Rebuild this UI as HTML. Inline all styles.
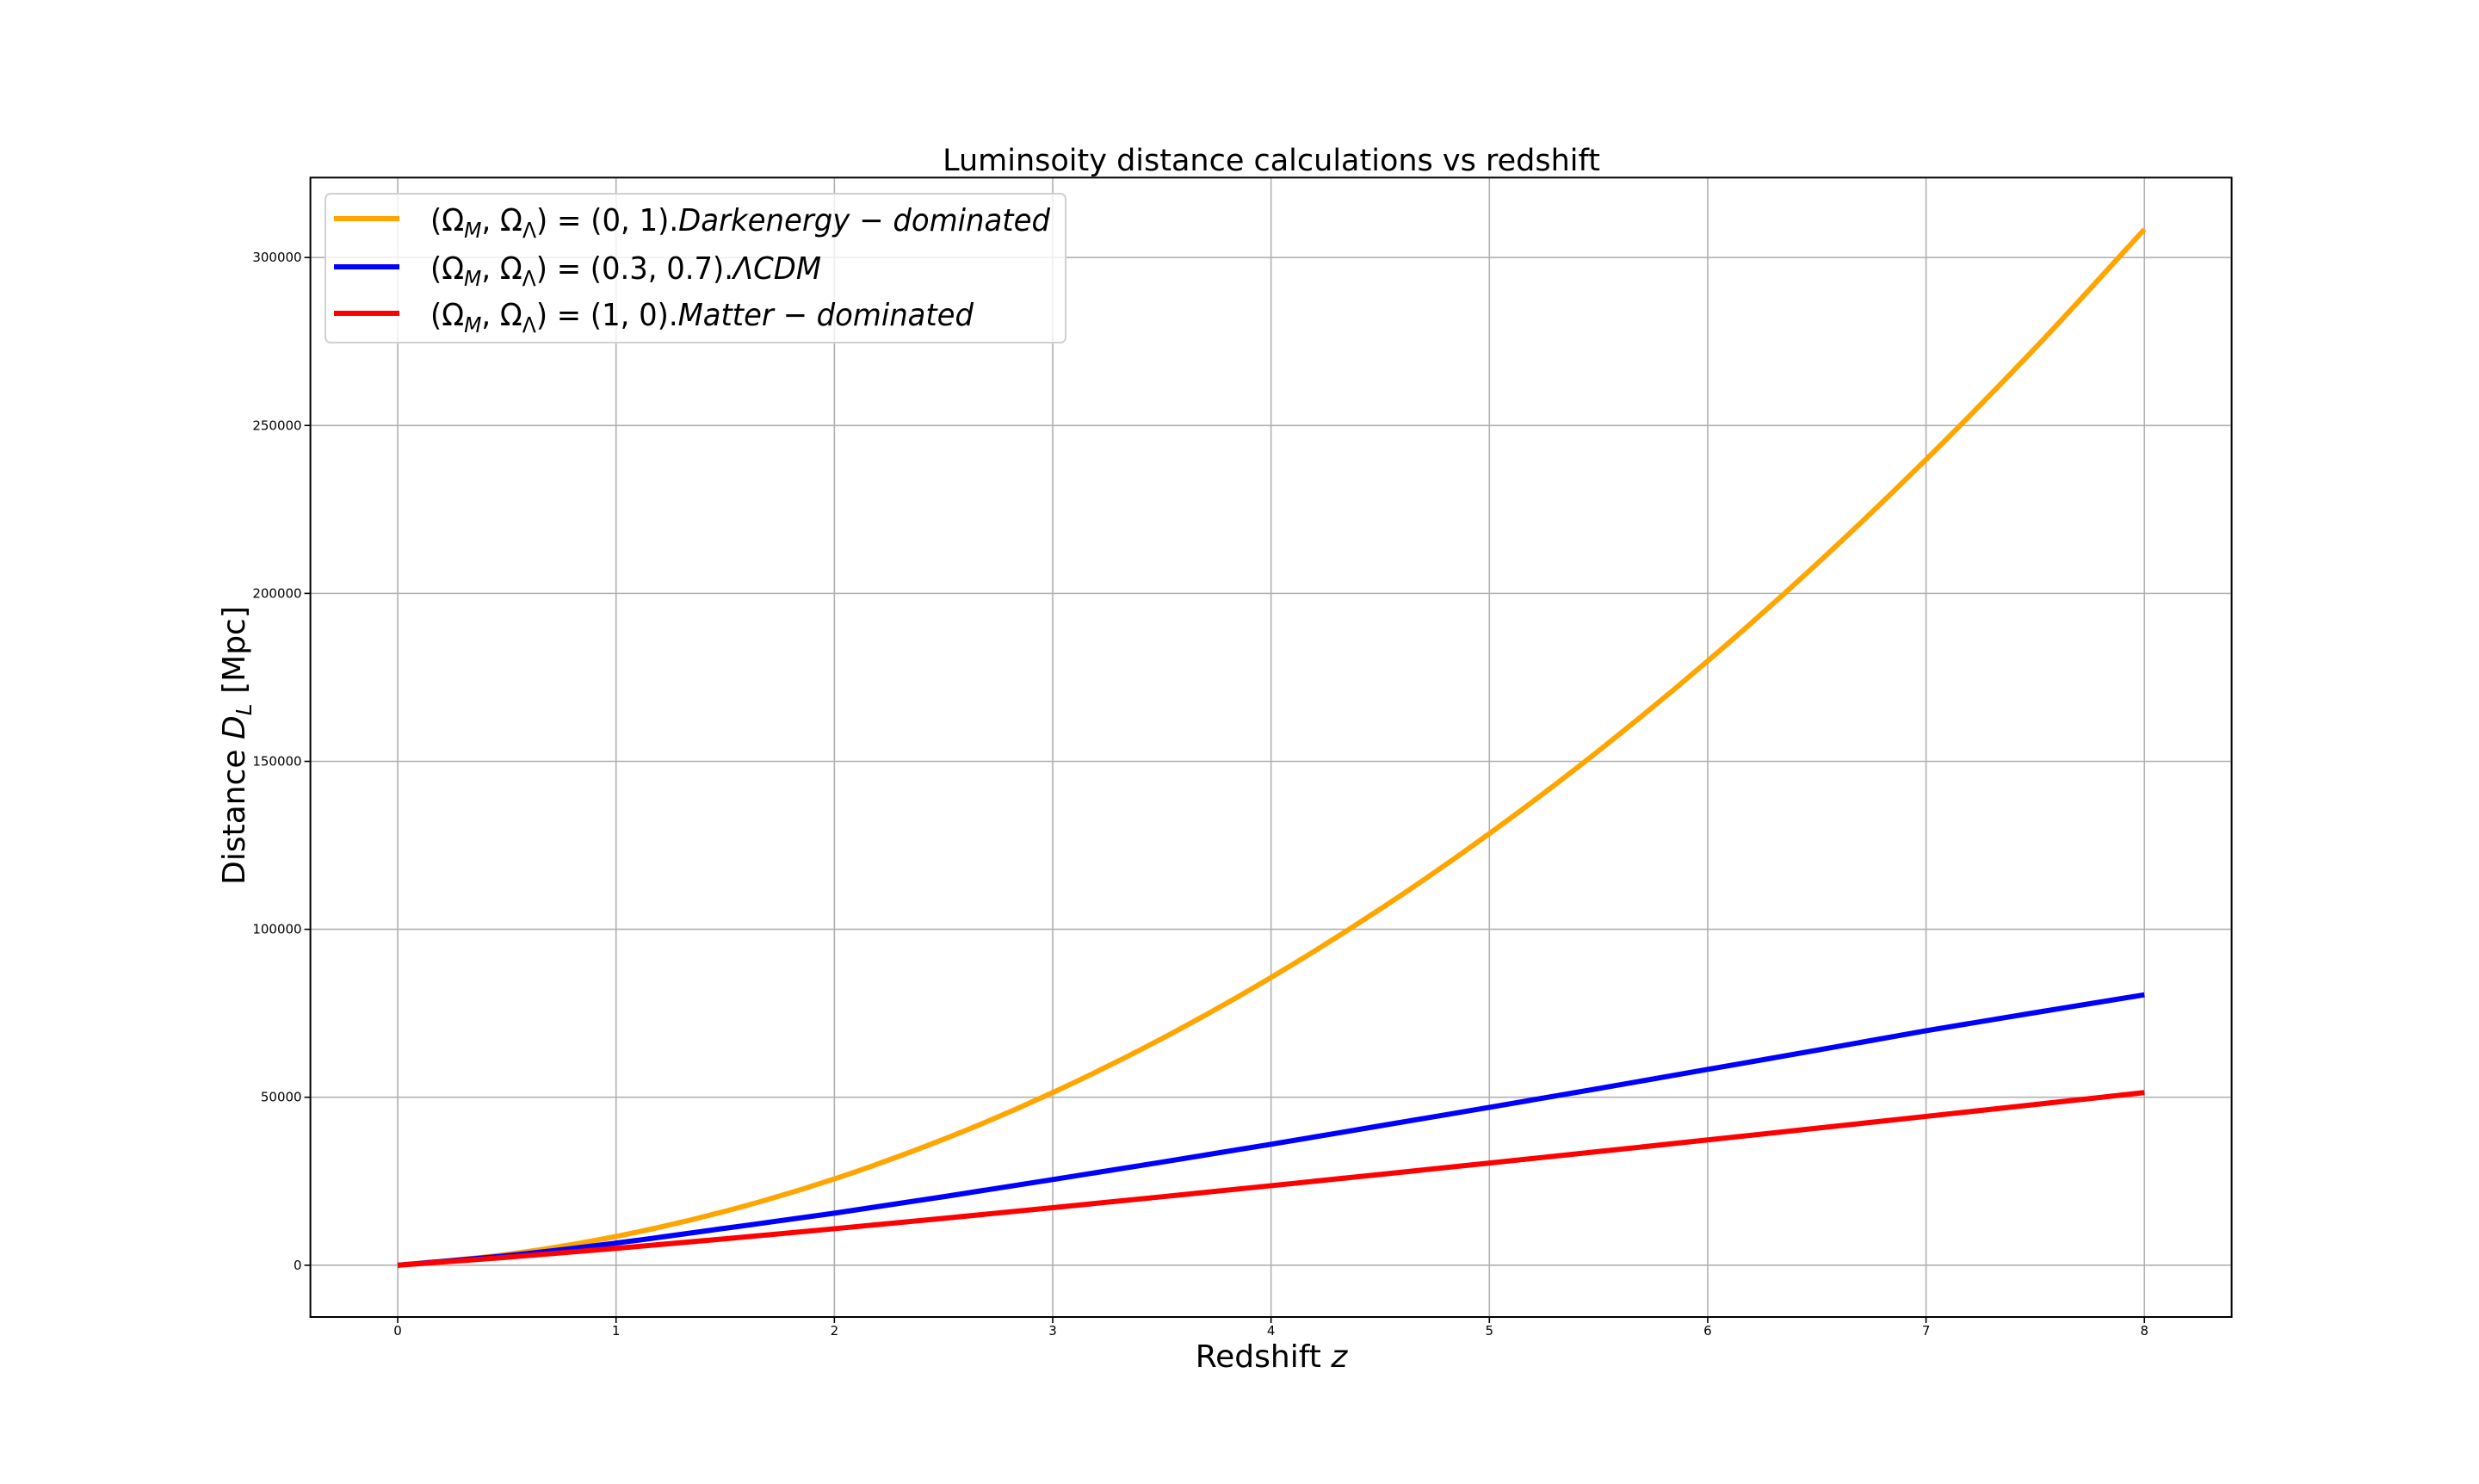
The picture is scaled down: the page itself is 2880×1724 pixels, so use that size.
<!DOCTYPE html>
<html><head><meta charset="utf-8"><style>
body{margin:0;background:#fff}
svg text{font-family:"DejaVu Sans","Liberation Sans",sans-serif;fill:#000}
</style></head><body>
<svg id="chart" width="2880" height="1719" viewBox="0 0 2880 1719" xmlns="http://www.w3.org/2000/svg">
<rect width="2880" height="1719" fill="#fff"/>
<g id="grid"></g>
<g id="series"></g>
<g id="ticks"></g>
<rect x="360.6" y="206.3" width="2232" height="1323.7" fill="none" stroke="#000" stroke-width="2"/>
<text x="1477" y="198" font-size="35" text-anchor="middle">Luminsoity distance calculations vs redshift</text>
<text x="1477" y="1588" font-size="36" text-anchor="middle">Redshift <tspan font-style="italic">z</tspan></text>
<text transform="translate(284,866) rotate(-90)" font-size="36" text-anchor="middle">Distance <tspan font-style="italic">D</tspan><tspan font-style="italic" font-size="25" dy="8">L</tspan><tspan dy="-8"> [Mpc]</tspan></text>
<g>
<rect x="378" y="225" width="860" height="173" rx="6" fill="#fff" fill-opacity="0.8" stroke="#d0d0d0" stroke-width="2"/>
<g>
<line x1="388" y1="254" x2="464" y2="254" stroke="orange" stroke-width="6"/>
<text x="500" y="268" font-size="36" textLength="720" lengthAdjust="spacingAndGlyphs">(Ω<tspan font-size="25" dy="8" font-style="italic">M</tspan><tspan dy="-8">, Ω</tspan><tspan font-size="25" dy="8">Λ</tspan><tspan dy="-8">) = (0, 1).</tspan><tspan font-style="italic">Darkenergy − dominated</tspan></text>
</g>
<g>
<line x1="388" y1="310" x2="464" y2="310" stroke="blue" stroke-width="6"/>
<text x="500" y="324" font-size="36" textLength="454" lengthAdjust="spacingAndGlyphs">(Ω<tspan font-size="25" dy="8" font-style="italic">M</tspan><tspan dy="-8">, Ω</tspan><tspan font-size="25" dy="8">Λ</tspan><tspan dy="-8">) = (0.3, 0.7).</tspan><tspan font-style="italic">ΛCDM</tspan></text>
</g>
<g>
<line x1="388" y1="364" x2="464" y2="364" stroke="red" stroke-width="6"/>
<text x="500" y="378" font-size="36" textLength="631" lengthAdjust="spacingAndGlyphs">(Ω<tspan font-size="25" dy="8" font-style="italic">M</tspan><tspan dy="-8">, Ω</tspan><tspan font-size="25" dy="8">Λ</tspan><tspan dy="-8">) = (1, 0).</tspan><tspan font-style="italic">Matter − dominated</tspan></text>
</g>
</g>
</svg>
<script>
const redshifts=[0,0.5,1,1.5,2,2.5,3,3.5,4,4.5,5,5.5,6,6.5,7,7.5,8];
const darkEnergy=[0,3212,8566,16061,25698,37476,51396,67457,85660,106004,128490,153117,179886,208796,239848,273041,308376];
const lcdm=[0,2830,6600,11000,15500,20400,25500,30700,36000,41500,47000,52600,58300,64000,69800,75200,80500];
const matter=[0,2358,5018,7871,10862,13956,17132,20376,23676,27024,30417,33837,37298,40787,44302,47840,51396];
const xTicks=[0,1,2,3,4,5,6,7,8];
const yTicks=[0,50000,100000,150000,200000,250000,300000];
const NS='http://www.w3.org/2000/svg';
const L=360.6,R=2592.7,T=206.3,B=1530;
const xmin=-0.4,xmax=8.4,ymin=-15419,ymax=323795;
function sx(v){return L+(v-xmin)/(xmax-xmin)*(R-L);}
function sy(v){return B-(v-ymin)/(ymax-ymin)*(B-T);}
const grid=document.getElementById('grid'),ticks=document.getElementById('ticks'),series=document.getElementById('series');
function mk(tag,attrs,parent){const e=document.createElementNS(NS,tag);for(const k in attrs)e.setAttribute(k,attrs[k]);parent.appendChild(e);return e;}
xTicks.forEach(t=>{
  const g=mk('line',{x1:sx(t),x2:sx(t),y1:T,y2:B,stroke:'#b0b0b0','stroke-width':1.6},grid);
  
  
  const tk=mk('line',{x1:sx(t),x2:sx(t),y1:B,y2:B+7,stroke:'#000','stroke-width':1.6},ticks);
  
  
  const tx=mk('text',{x:sx(t),y:B+21,'font-size':15,'text-anchor':'middle'},ticks);
  tx.textContent=t;
  
  
});
yTicks.forEach(t=>{
  const g=mk('line',{x1:L,x2:R,y1:sy(t),y2:sy(t),stroke:'#b0b0b0','stroke-width':1.6},grid);
  
  
  const tk=mk('line',{x1:L-7,x2:L,y1:sy(t),y2:sy(t),stroke:'#000','stroke-width':1.6},ticks);
  
  
  const tx=mk('text',{x:L-10,y:sy(t)+5,'font-size':15,'text-anchor':'end'},ticks);
  tx.textContent=t;
  
  
});
function curve(vals,color,name){
  const p=redshifts.map((z,i)=>[sx(z),sy(vals[i])]);
  let d='M'+p[0][0]+','+p[0][1];
  for(let i=0;i<p.length-1;i++){
    const p0=p[Math.max(0,i-1)],p1=p[i],p2=p[i+1],p3=p[Math.min(p.length-1,i+2)];
    const c1=[p1[0]+(p2[0]-p0[0])/6,p1[1]+(p2[1]-p0[1])/6];
    const c2=[p2[0]-(p3[0]-p1[0])/6,p2[1]-(p3[1]-p1[1])/6];
    d+=' C'+c1[0]+','+c1[1]+' '+c2[0]+','+c2[1]+' '+p2[0]+','+p2[1];
  }
  const e=mk('path',{d:d,fill:'none',stroke:color,'stroke-width':6,'stroke-linecap':'butt'},series);
  
  
}
curve(darkEnergy,'orange','dark-energy-line');
curve(lcdm,'blue','lcdm-line');
curve(matter,'red','matter-dominated-line');
</script>
</body></html>
